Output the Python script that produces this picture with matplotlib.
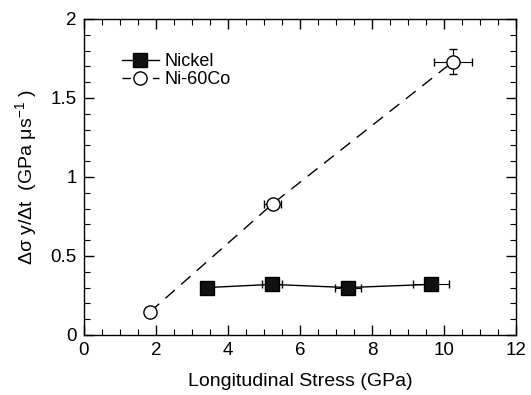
import numpy as np
import matplotlib.pyplot as plt
from matplotlib.ticker import MultipleLocator
from matplotlib.lines import Line2D

plt.rcParams['font.family'] = ['Liberation Sans', 'DejaVu Sans']
plt.rcParams['mathtext.fontset'] = 'custom'
plt.rcParams['mathtext.rm'] = 'Liberation Sans'

# Nickel data
ni_stress = [3.41, 5.22, 7.32, 9.63]
ni_rate = [0.30, 0.32, 0.30, 0.32]
ni_xerr = [0.15, 0.28, 0.36, 0.50]

# Ni-60Co data
co_stress = [1.83, 5.24, 10.25]
co_rate = [0.145, 0.83, 1.73]
co_xerr = [0.0, 0.24, 0.53]
co_yerr = [0.0, 0.02, 0.08]

dash = (0, (9, 6))

fig = plt.figure(figsize=(5.31, 3.95), dpi=100)
ax = fig.add_axes([0.158, 0.152, 0.814, 0.800])

ax.errorbar(ni_stress, ni_rate, xerr=ni_xerr, fmt='s-', color='k',
            mfc='#111111', mec='k', ms=10, lw=1, elinewidth=0.8,
            capsize=3, zorder=3)
ax.errorbar(co_stress, co_rate, xerr=co_xerr, yerr=co_yerr, fmt='o',
            ls=dash, color='k', mfc='white', mec='k', ms=9.5,
            mew=1, lw=1, elinewidth=0.8, capsize=3, zorder=3)

ax.set_xlim(0, 12)
ax.set_ylim(0, 2)
ax.xaxis.set_major_locator(MultipleLocator(2))
ax.xaxis.set_minor_locator(MultipleLocator(0.5))
ax.yaxis.set_minor_locator(MultipleLocator(0.1))
ax.set_yticks([0, 0.5, 1, 1.5, 2])
ax.set_yticklabels(['0', '0.5', '1', '1.5', '2'])
ax.tick_params(which='both', direction='in', top=True, right=True, labelsize=13.5)
ax.tick_params(which='major', length=7, width=1, pad=5)
ax.tick_params(which='minor', length=4, width=0.8)
for s in ax.spines.values():
    s.set_linewidth(1)

ax.set_xlabel('Longitudinal Stress (GPa)', fontsize=14, labelpad=10)
ax.set_ylabel(r'Δσ y/Δt  (GPa μs$^{\mathregular{-1}}$ )', fontsize=14, labelpad=8)

handles = [
    Line2D([], [], color='k', marker='s', ms=10, mfc='#111111', lw=1),
    Line2D([], [], color='k', marker='o', ms=9.5, mfc='white', lw=1, ls=(0, (6, 5))),
]
ax.legend(handles, ['Nickel', 'Ni-60Co'], loc='upper left',
          bbox_to_anchor=(0.087, 0.892), frameon=False, fontsize=13,
          handlelength=2.1, handletextpad=0.3, labelspacing=0.05,
          borderaxespad=0, borderpad=0)

fig.savefig('out.png', dpi=100)
